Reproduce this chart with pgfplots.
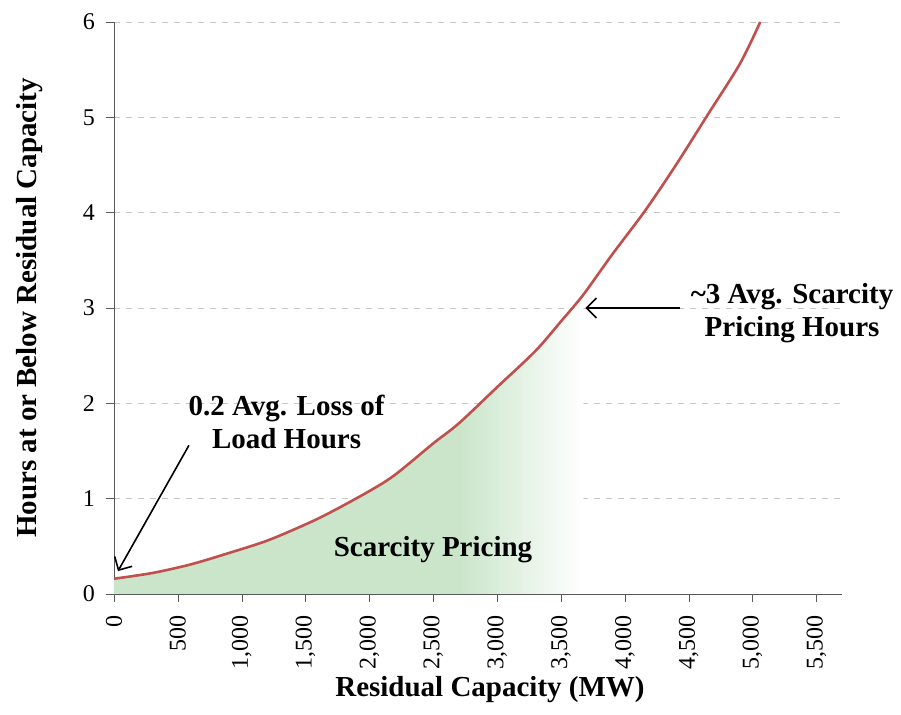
\documentclass[border=0pt]{standalone}
\usepackage{pgfplots}
\pgfplotsset{compat=1.18}
\usepackage{fontspec}
\setmainfont{Liberation Serif}
\usetikzlibrary{arrows.meta}

\definecolor{curvered}{RGB}{192,80,77}
\definecolor{fillgreen}{RGB}{202,229,202}

% curve: residual capacity (MW) vs hours
\pgfplotstableread{
x y
0 0.16
300 0.22
600 0.31
900 0.43
1200 0.56
1500 0.73
1700 0.86
2000 1.08
2200 1.25
2500 1.58
2700 1.79
3000 2.17
3300 2.55
3500 2.86
3675 3.14
3900 3.56
4158 4.02
4400 4.5
4650 5.03
4900 5.56
5060 6.0
}\curve
\pgfplotstableread{
x y
0 0.16
300 0.22
600 0.31
900 0.43
1200 0.56
1500 0.73
1700 0.86
2000 1.08
2200 1.25
2500 1.58
2700 1.79
}\solidpart
\pgfplotstableread{
x y
2700 1.79
3000 2.17
3300 2.55
3500 2.86
3675 3.14
}\fadepart

\begin{document}
\begin{tikzpicture}
\begin{axis}[
  scale only axis, width=364pt, height=286pt,
  xmin=0, xmax=5700, ymin=0, ymax=6,
  axis x line*=bottom, axis y line*=left,
  axis line style={gray!70!black},
  xtick={0,500,...,5500}, ytick={0,1,...,6},
  tick align=outside, major tick length=4pt,
  tick style={gray!70!black},
  xticklabel style={rotate=90, anchor=east, xshift=-3pt, font=\fontsize{12}{13}\selectfont},
  yticklabel style={font=\fontsize{12}{13}\selectfont, xshift=-2pt},
  /pgf/number format/.cd, 1000 sep={,}, assume math mode=true, /pgfplots/.cd,
  ymajorgrids, grid style={dashed, gray!45},
  xlabel={\textbf{Residual Capacity (MW)}},
  ylabel={\textbf{Hours at or Below Residual Capacity}},
  label style={font=\fontsize{14.5}{16}\selectfont},
  xlabel style={at={(axis description cs:0.5,0)}, anchor=center, yshift=-48pt, xshift=6pt},
  ylabel style={at={(axis description cs:0,0.5)}, anchor=center, yshift=42pt},
  clip=false,
]
\addplot[draw=none, fill=fillgreen, smooth, tension=0.5] table {\solidpart} \closedcycle;
\addplot[draw=none, left color=fillgreen, right color=white, smooth, tension=0.5] table {\fadepart} \closedcycle;
\addplot[curvered, line width=1.3pt, smooth, tension=0.5] table {\curve};

\node[font=\bfseries\fontsize{14.5}{16.5}\selectfont, align=center] at (axis cs:1351,1.8) {0.2 Avg. Loss of\\Load Hours};
\draw[-{Straight Barb[length=5pt]}, thick] (axis cs:587,1.56) -- (axis cs:31,0.24);
\node[font=\bfseries\fontsize{14.5}{16.5}\selectfont, align=center] at (axis cs:5309,2.95) {\textasciitilde3 Avg. Scarcity\\Pricing Hours};
\draw[-{Straight Barb[length=5pt]}, thick] (axis cs:4432,3.0) -- (axis cs:3690,3.0);
\node[font=\bfseries\fontsize{14.5}{16.5}\selectfont] at (axis cs:2498,0.47) {Scarcity Pricing};
\end{axis}
\path ([shift={(-57pt,-60.5pt)}]current axis.south west) rectangle ([shift={(29.5pt,11pt)}]current axis.north east);
\end{tikzpicture}
\end{document}
